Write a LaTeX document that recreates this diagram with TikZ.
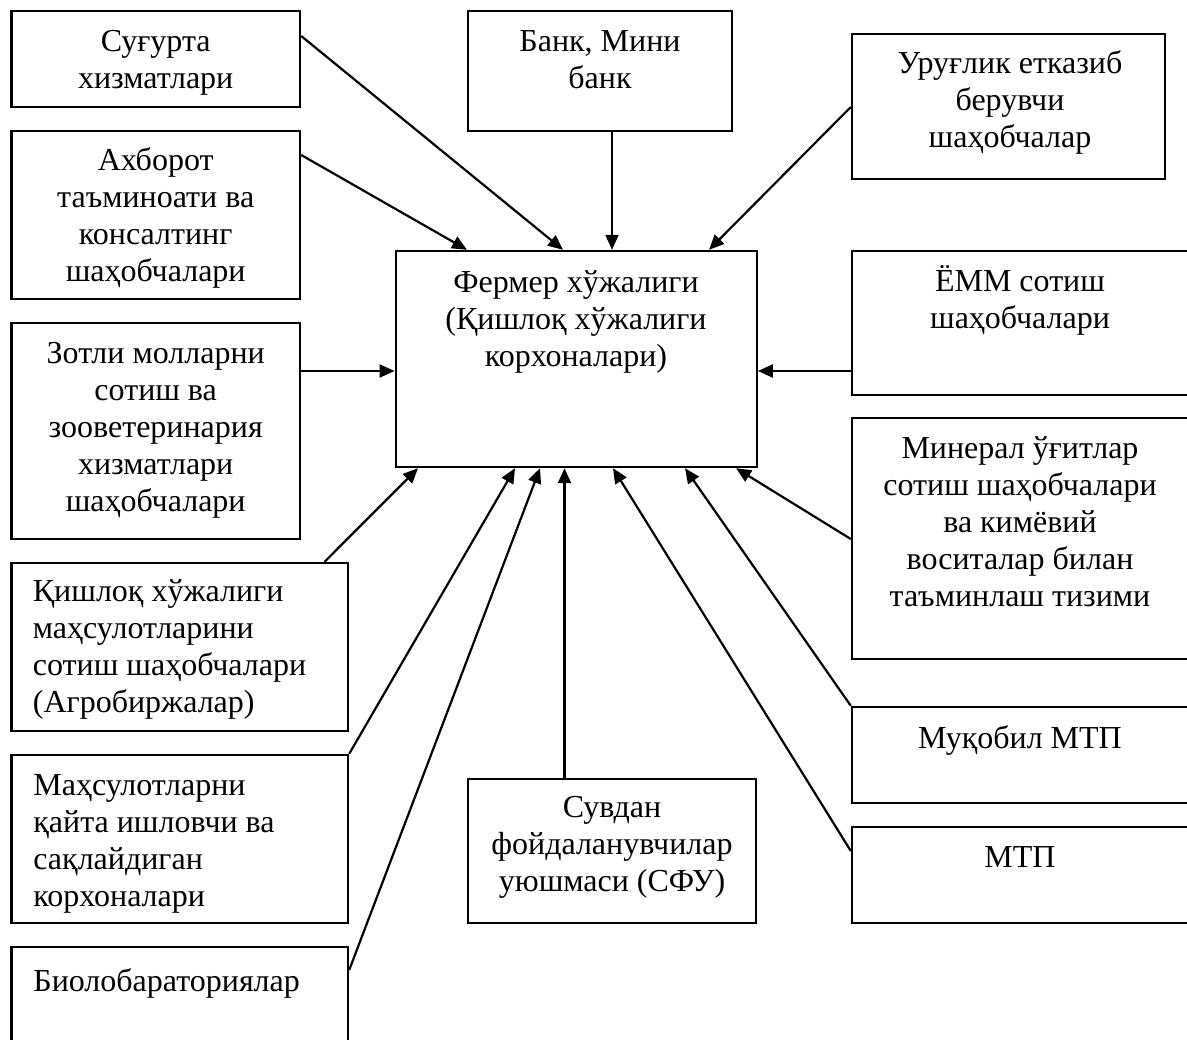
\documentclass[tikz,border=0pt]{standalone}
\usepackage{fontspec}
\setmainfont{Liberation Serif}
\usetikzlibrary{arrows.meta,fit}
\tikzset{
  box/.style={draw=black,line width=1.2pt,inner sep=0pt,rectangle},
  txt/.style={inner sep=0pt,align=center,font=\fontsize{16}{18.5}\selectfont},
  ltxt/.style={inner sep=0pt,align=left,font=\fontsize{16}{18.5}\selectfont},
  conn/.style={draw=black,line width=1.1pt,-{Triangle[length=7.5pt,width=6.5pt]}}
}
\begin{document}
\begin{tikzpicture}[x=0.5pt,y=-0.5pt]
\useasboundingbox (0,0) rectangle (1187,1039);
\clip (0,0) rectangle (1187,1039);
% boxes
\node[box,fit={(11.5,11) (300,107)}] (b1) {};
\node[box,fit={(468,11) (732,131)}] (b2) {};
\node[box,fit={(852,34) (1165,179)}] (b3) {};
\node[box,fit={(11.5,131) (300,299)}] (b4) {};
\node[box,fit={(395.7,251) (756.7,467)}] (b5) {};
\node[box,fit={(852,251) (1189,395)}] (b6) {};
\node[box,fit={(11.5,323) (300,539)}] (b7) {};
\node[box,fit={(852,418) (1189,659)}] (b8) {};
\node[box,fit={(11.5,563) (348,731)}] (b9) {};
\node[box,fit={(11.5,755) (348,923)}] (b10) {};
\node[box,fit={(11.5,947) (348,1060)}] (b11) {};
\node[box,fit={(468,779) (756,923)}] (b12) {};
\node[box,fit={(852,707) (1189,803)}] (b13) {};
\node[box,fit={(852,827) (1189,923)}] (b14) {};
% texts (base anchor = baseline of last line)
\node[txt,anchor=base] (t1) at (155.7,88.5) {Суғурта\\хизматлари};
\node[txt,anchor=base] (t2) at (600,88.5) {Банк, Мини\\банк};
\node[txt,anchor=base] (t3) at (1010,147.3) {Уруғлик етказиб\\берувчи\\шаҳобчалар};
\node[txt,anchor=base] (t4) at (155.7,281) {Ахборот\\таъминоати ва\\консалтинг\\шаҳобчалари};
\node[txt,anchor=base] (t5) at (576,366) {Фермер хўжалиги\\(Қишлоқ хўжалиги\\корхоналари)};
\node[txt,anchor=base] (t6) at (1020,328) {ЁММ сотиш\\шаҳобчалари};
\node[txt,anchor=base] (t7) at (155.7,511.3) {Зотли молларни\\сотиш ва\\зооветеринария\\хизматлари\\шаҳобчалари};
\node[txt,anchor=base] (t8) at (1020,606.3) {Минерал ўғитлар\\сотиш шаҳобчалари\\ва кимёвий\\воситалар билан\\таъминлаш тизими};
\node[ltxt,anchor=base west] (t9) at (32.5,712) {Қишлоқ хўжалиги\\маҳсулотларини\\сотиш шаҳобчалари\\(Агробиржалар)};
\node[ltxt,anchor=base west] (t10) at (33,906) {Маҳсулотларни\\қайта ишловчи ва\\сақлайдиган\\корхоналари};
\node[ltxt,anchor=base west] (t11) at (33,991) {Биолобараториялар};
\node[txt,anchor=base] (t12) at (612,891.5) {Сувдан\\фойдаланувчилар\\уюшмаси (СФУ)};
\node[txt,anchor=base] (t13) at (1020,748.3) {Муқобил МТП};
\node[txt,anchor=base] (t14) at (1020,867.7) {МТП};
% connectors
\draw[conn] (b1.east |- 0,36) -- (b5.north -| 563,0);
\draw[conn] (b4.east |- 0,155) -- (b5.north -| 467,0);
\draw[conn] (b2.south -| 612,0) -- (b5.north -| 612,0);
\draw[conn] (b3.west |- 0,107) -- (b5.north -| 709,0);
\draw[conn] (b7.east |- 0,371) -- (b5.west |- 0,371);
\draw[conn] (b6.west |- 0,371) -- (b5.east |- 0,371);
\draw[conn] (b8.west |- 0,539) -- (b5.south -| 736,0);
\draw[conn] (b9.north -| 324.5,0) -- (b5.south -| 418,0);
\draw[conn] (b10.north east) -- (b5.south -| 515,0);
\draw[conn] (b11.east |- 0,970) -- (b5.south -| 540,0);
\draw[conn] (b12.north -| 564.5,0) -- (b5.south -| 564.5,0);
\draw[conn] (b13.north west) -- (b5.south -| 685,0);
\draw[conn] (b14.west |- 0,851) -- (b5.south -| 613,0);
\end{tikzpicture}
\end{document}
